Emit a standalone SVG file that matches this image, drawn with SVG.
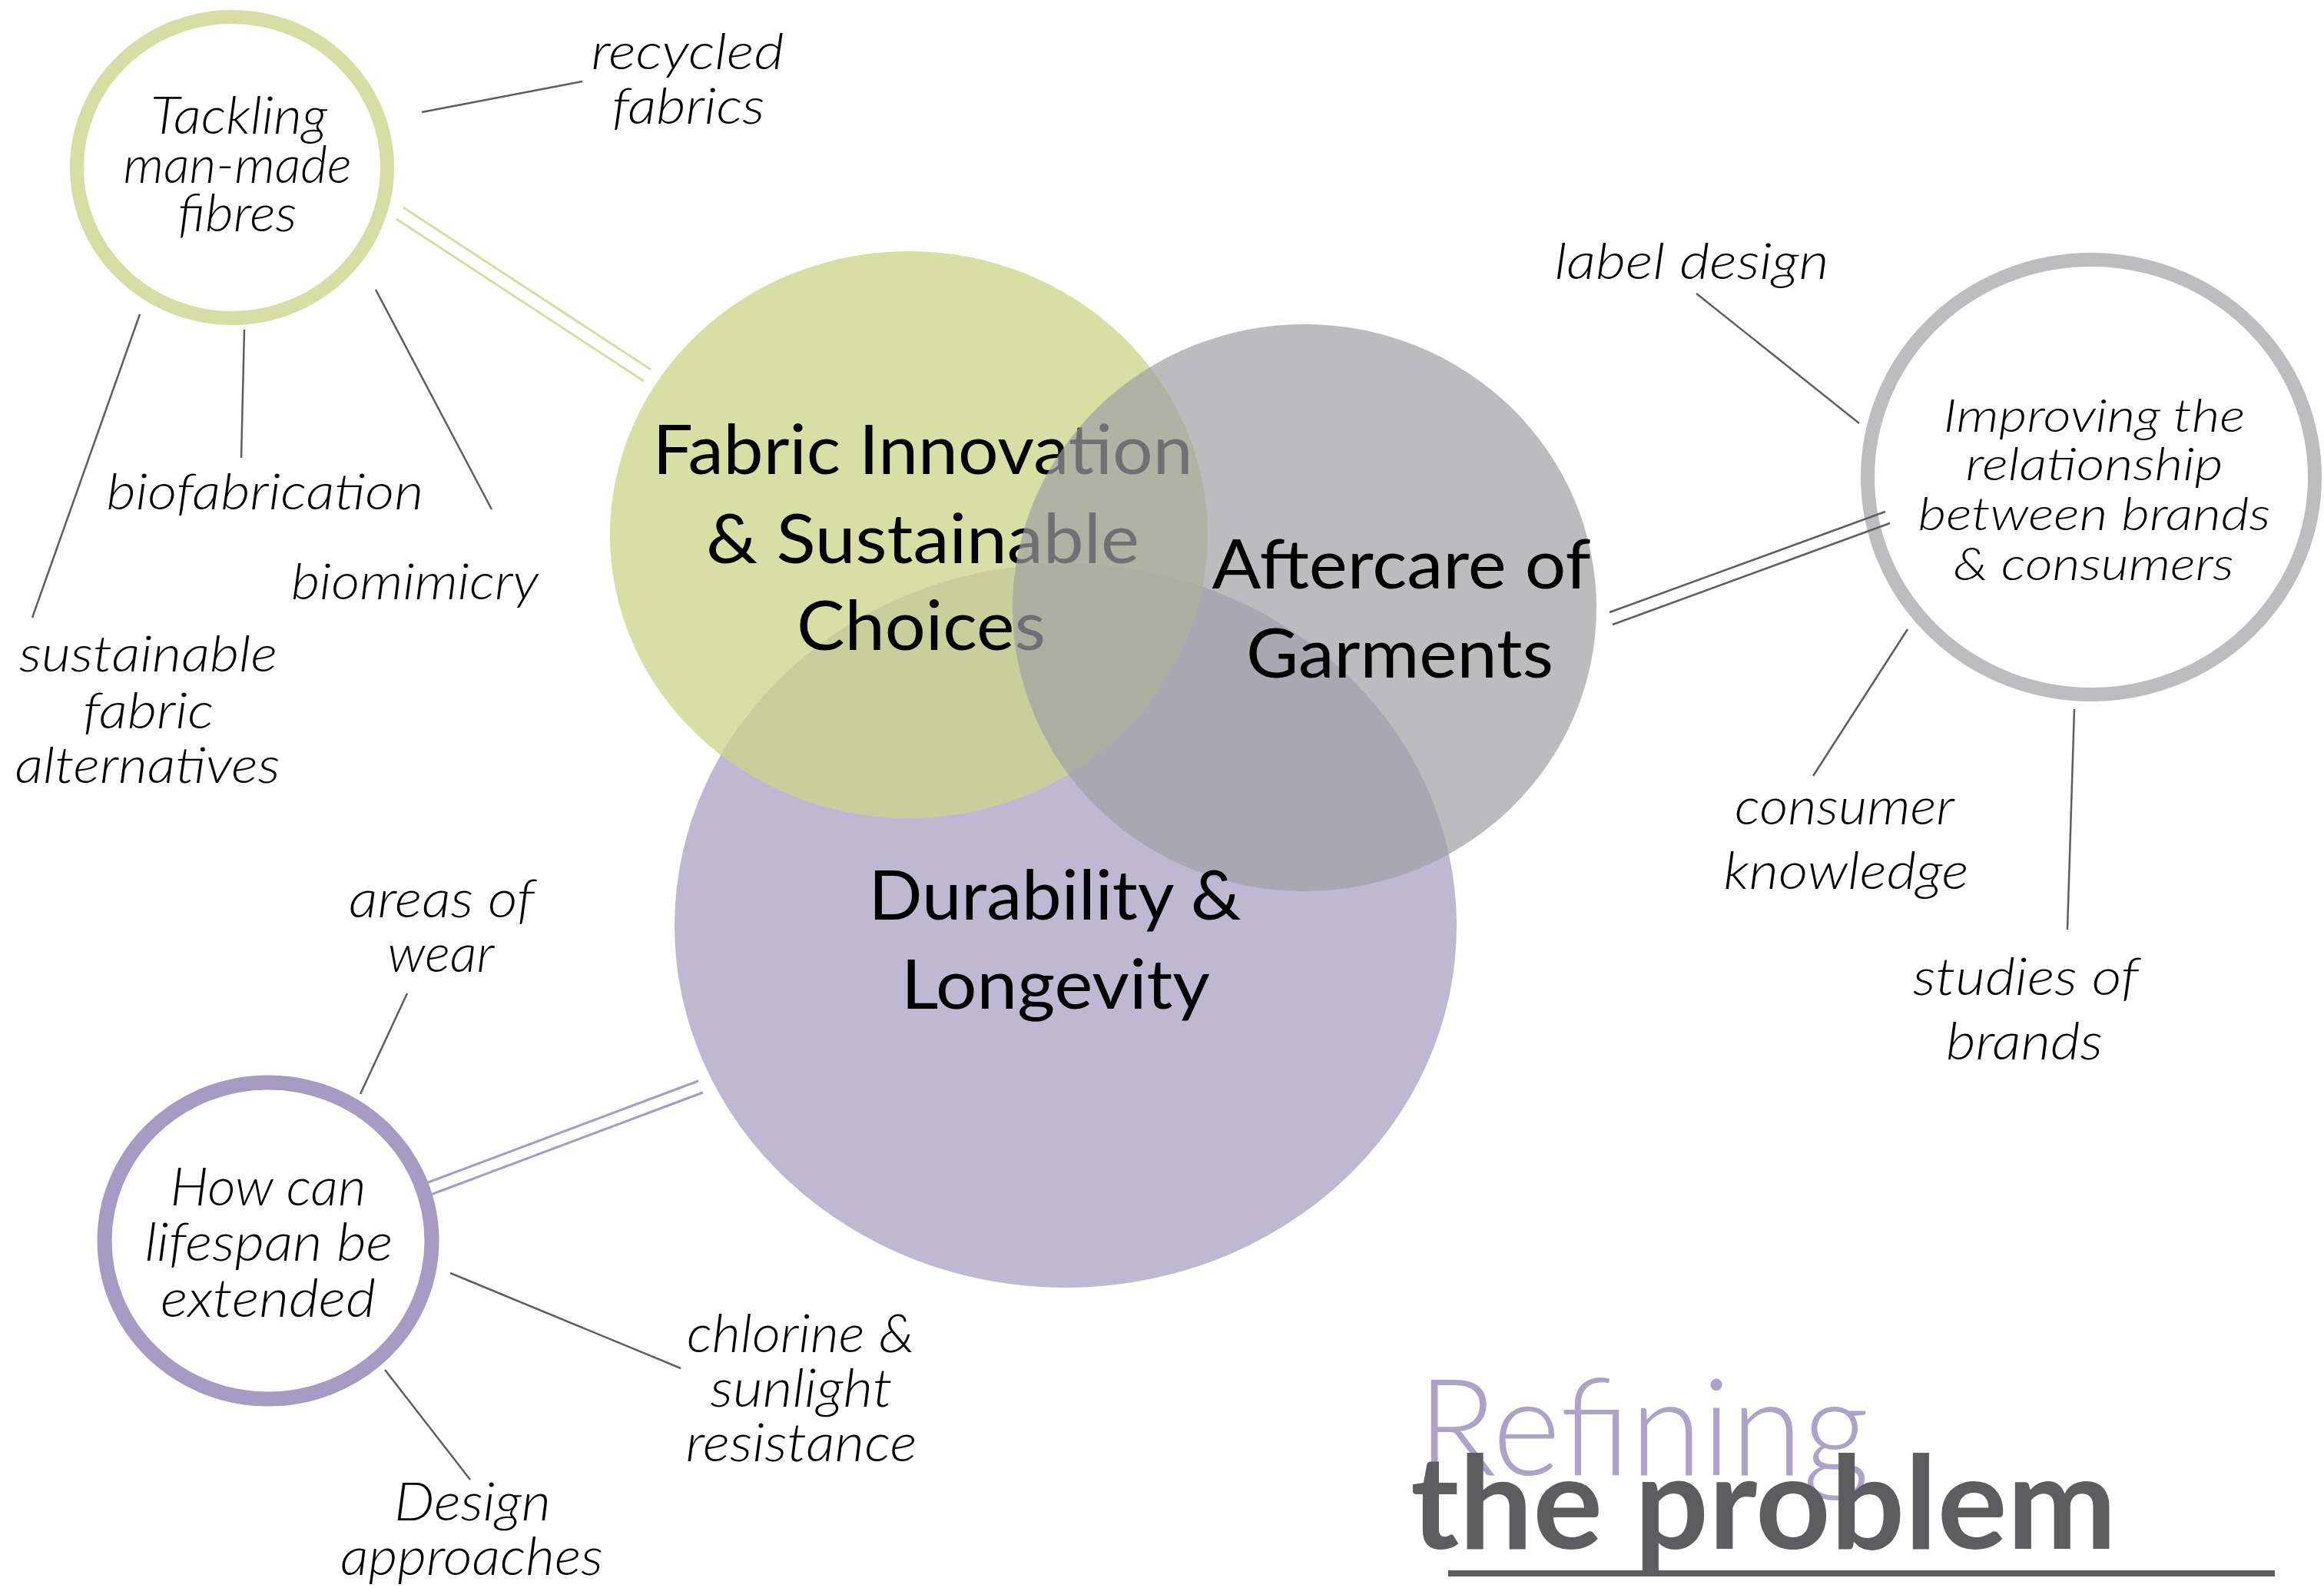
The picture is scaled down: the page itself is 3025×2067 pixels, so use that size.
<svg xmlns="http://www.w3.org/2000/svg" width="3025" height="2067" viewBox="0 0 3025 2067">
<style>
.lbl{font-family:Lato,"Open Sans","DejaVu Sans",sans-serif;font-style:italic;font-weight:300;fill:#000;text-anchor:middle;}
.big{font-family:Lato,"Open Sans","DejaVu Sans",sans-serif;font-weight:400;fill:#000;text-anchor:middle;font-size:90px;}
.con{stroke:#5e5e5e;stroke-width:2.5;fill:none;}
</style>
<rect width="3025" height="2067" fill="#ffffff"/>

<g id="venn-durability-base">
  <ellipse cx="1387" cy="1205" rx="509" ry="471" fill="#bfb8d3"/>
</g>
<g id="venn-fabric">
  <ellipse cx="1183" cy="696" rx="389" ry="369" fill="#ccd68c" fill-opacity="0.78"/>
  <text class="big" x="1201" y="617" textLength="703" lengthAdjust="spacingAndGlyphs">Fabric Innovation</text>
  <text class="big" x="1201" y="733" textLength="564" lengthAdjust="spacingAndGlyphs">&amp; Sustainable</text>
  <text class="big" x="1199" y="846" textLength="324" lengthAdjust="spacingAndGlyphs">Choices</text>
</g>
<g id="venn-aftercare">
  <ellipse cx="1698" cy="791" rx="380" ry="369" fill="#9f9fa2" fill-opacity="0.7"/>
  <text class="big" x="1824" y="766" textLength="493" lengthAdjust="spacingAndGlyphs">Aftercare of</text>
  <text class="big" x="1822" y="882" textLength="400" lengthAdjust="spacingAndGlyphs">Garments</text>
</g>
<g id="venn-durability">
  <text class="big" x="1373" y="1197" textLength="485" lengthAdjust="spacingAndGlyphs">Durability &amp;</text>
  <text class="big" x="1374" y="1313" textLength="402" lengthAdjust="spacingAndGlyphs">Longevity</text>
</g>

<g id="ring-fibres">
  <ellipse cx="302" cy="218" rx="202" ry="196" fill="#ffffff" stroke="#d6dea4" stroke-width="18"/>
  <text class="lbl" font-size="68" x="311" y="174" textLength="230" lengthAdjust="spacingAndGlyphs">Tackling</text>
  <text class="lbl" font-size="68" x="309" y="238" textLength="297" lengthAdjust="spacingAndGlyphs">man-made</text>
  <text class="lbl" font-size="68" x="309" y="301" textLength="155" lengthAdjust="spacingAndGlyphs">fibres</text>
</g>
<g id="lbl-recycled">
  <text class="lbl" font-size="66" x="895" y="90" textLength="251" lengthAdjust="spacingAndGlyphs">recycled</text>
  <text class="lbl" font-size="66" x="896" y="161" textLength="199" lengthAdjust="spacingAndGlyphs">fabrics</text>
</g>
<g id="lbl-biofabrication">
  <text class="lbl" font-size="66" x="345" y="663" textLength="413" lengthAdjust="spacingAndGlyphs">biofabrication</text>
</g>
<g id="lbl-biomimicry">
  <text class="lbl" font-size="66" x="540" y="780" textLength="322" lengthAdjust="spacingAndGlyphs">biomimicry</text>
</g>
<g id="lbl-sustainable">
  <text class="lbl" font-size="66" x="193" y="874" textLength="336" lengthAdjust="spacingAndGlyphs">sustainable</text>
  <text class="lbl" font-size="66" x="193" y="948" textLength="170" lengthAdjust="spacingAndGlyphs">fabric</text>
  <text class="lbl" font-size="66" x="192" y="1019" textLength="345" lengthAdjust="spacingAndGlyphs">alternatives</text>
</g>

<g id="ring-relationship">
  <ellipse cx="2722" cy="621" rx="291" ry="283" fill="#ffffff" stroke="#bdbdbf" stroke-width="18"/>
  <text class="lbl" font-size="60" x="2726" y="562" textLength="393" lengthAdjust="spacingAndGlyphs">Improving the</text>
  <text class="lbl" font-size="60" x="2726" y="625" textLength="335" lengthAdjust="spacingAndGlyphs">relationship</text>
  <text class="lbl" font-size="60" x="2726" y="690" textLength="459" lengthAdjust="spacingAndGlyphs">between brands</text>
  <text class="lbl" font-size="60" x="2725" y="755" textLength="365" lengthAdjust="spacingAndGlyphs">&amp; consumers</text>
</g>
<g id="lbl-label-design">
  <text class="lbl" font-size="66" x="2202" y="363" textLength="357" lengthAdjust="spacingAndGlyphs">label design</text>
</g>
<g id="lbl-consumer">
  <text class="lbl" font-size="68" x="2401" y="1073" textLength="286" lengthAdjust="spacingAndGlyphs">consumer</text>
  <text class="lbl" font-size="68" x="2403" y="1157" textLength="319" lengthAdjust="spacingAndGlyphs">knowledge</text>
</g>
<g id="lbl-studies">
  <text class="lbl" font-size="68" x="2637" y="1295" textLength="294" lengthAdjust="spacingAndGlyphs">studies of</text>
  <text class="lbl" font-size="68" x="2635" y="1379" textLength="204" lengthAdjust="spacingAndGlyphs">brands</text>
</g>

<g id="ring-lifespan">
  <ellipse cx="349" cy="1615" rx="213" ry="206" fill="#ffffff" stroke="#a59bc3" stroke-width="19"/>
  <text class="lbl" font-size="70" x="349" y="1569" textLength="255" lengthAdjust="spacingAndGlyphs">How can</text>
  <text class="lbl" font-size="70" x="350" y="1641" textLength="323" lengthAdjust="spacingAndGlyphs">lifespan be</text>
  <text class="lbl" font-size="70" x="349" y="1714" textLength="280" lengthAdjust="spacingAndGlyphs">extended</text>
</g>
<g id="lbl-areas">
  <text class="lbl" font-size="70" x="575" y="1194" textLength="242" lengthAdjust="spacingAndGlyphs">areas of</text>
  <text class="lbl" font-size="70" x="574" y="1265" textLength="139" lengthAdjust="spacingAndGlyphs">wear</text>
</g>
<g id="lbl-chlorine">
  <text class="lbl" font-size="70" x="1042" y="1760" textLength="296" lengthAdjust="spacingAndGlyphs">chlorine &amp;</text>
  <text class="lbl" font-size="70" x="1043" y="1831" textLength="237" lengthAdjust="spacingAndGlyphs">sunlight</text>
  <text class="lbl" font-size="70" x="1043" y="1902" textLength="301" lengthAdjust="spacingAndGlyphs">resistance</text>
</g>
<g id="lbl-design">
  <text class="lbl" font-size="70" x="615" y="1979" textLength="204" lengthAdjust="spacingAndGlyphs">Design</text>
  <text class="lbl" font-size="70" x="614" y="2050" textLength="342" lengthAdjust="spacingAndGlyphs">approaches</text>
</g>

<g id="title">
  <text x="1845" y="1920" font-family="Lato,'Open Sans',sans-serif" font-weight="300" font-size="176" fill="#ada2c7" textLength="588" lengthAdjust="spacingAndGlyphs">Refining</text>
  <text x="1836" y="2016" font-family="Lato,'Open Sans',sans-serif" font-weight="700" font-size="168" fill="#5d5d5f" textLength="919" lengthAdjust="spacingAndGlyphs">the problem</text>
  <rect x="1885" y="2044" width="1076" height="8" fill="#5d5d5f"/>
</g>

<g id="connectors">
  <line class="con" x1="549" y1="146" x2="758" y2="106"/>
  <line class="con" x1="318" y1="429" x2="314" y2="596"/>
  <line class="con" x1="489" y1="377" x2="640" y2="663"/>
  <line class="con" x1="182" y1="409" x2="42" y2="804"/>
  <line x1="525" y1="270" x2="847" y2="481" stroke="#d6dea4" stroke-width="3"/>
  <line x1="516" y1="285" x2="838" y2="496" stroke="#d6dea4" stroke-width="3"/>
  <line class="con" x1="2208" y1="382" x2="2420" y2="551"/>
  <line class="con" x1="2483" y1="819" x2="2360" y2="1010"/>
  <line class="con" x1="2700" y1="923" x2="2691" y2="1210"/>
  <line class="con" x1="2095" y1="797" x2="2454" y2="666"/>
  <line class="con" x1="2099" y1="813" x2="2460" y2="681"/>
  <line class="con" x1="530" y1="1293" x2="469" y2="1424"/>
  <line class="con" x1="586" y1="1657" x2="886" y2="1781"/>
  <line class="con" x1="501" y1="1783" x2="612" y2="1926"/>
  <line x1="552" y1="1541" x2="909" y2="1407" stroke="#a59bc3" stroke-width="3"/>
  <line x1="558" y1="1556" x2="915" y2="1422" stroke="#a59bc3" stroke-width="3"/>
</g>
</svg>
